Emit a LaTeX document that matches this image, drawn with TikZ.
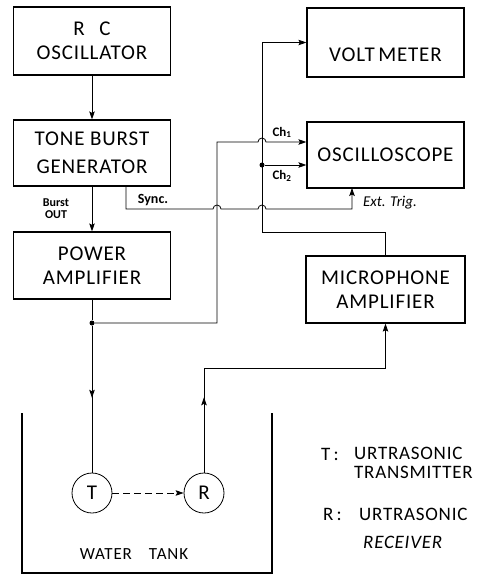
\documentclass[tikz,border=0pt]{standalone}
\usepackage{fontspec}
\setmainfont{Carlito}
\usetikzlibrary{arrows.meta,calc}

\tikzset{
  blk/.style={draw,line width=1.2pt,align=center,inner sep=2pt,
    minimum width=157pt,minimum height=67pt,
    font=\fontsize{21}{24}\selectfont\addfontfeatures{LetterSpace=4}},
  wire/.style={line width=0.8pt},
  xdcr/.style={draw,circle,line width=0.8pt,minimum size=40pt,inner sep=0pt,
    font=\fontsize{21}{24}\selectfont},
  lbl/.style={inner sep=1pt,font=\fontsize{13}{12}\selectfont\bfseries},
  dot/.style={fill,circle,inner sep=0pt,minimum size=5pt},
  legend/.style={inner sep=0pt,anchor=west,align=left,
    font=\fontsize{19}{19.5}\selectfont\addfontfeatures{LetterSpace=4}},
}

\begin{document}
\begin{tikzpicture}[x=1pt,y=-1pt,>={Stealth[length=8pt,width=5.5pt,inset=1.5pt]}]
\useasboundingbox (0,0) rectangle (491,576);

%================= left column =================
\node[blk,minimum height=68pt] (rc) at (92,41) {R\hspace{0.7em}C\\OSCILLATOR};
\node[blk,minimum height=66pt] (tone) at (92,153) {TONE BURST\\[4pt]GENERATOR};
\node[blk] (power) at (92,265.5) {POWER\\AMPLIFIER};

\draw[wire,->] (rc) -- (tone);
\draw[wire,->] (tone) -- (power);
\node[lbl,align=center,font=\fontsize{12}{12}\selectfont\bfseries] (bo) at (56,209) {Burst\\OUT};

%================= right column =================
\node[blk,minimum height=69pt] (volt) at (385.5,42.5) {\raisebox{-19pt}[0pt][0pt]{VOLT\,METER}};
\node[blk,minimum height=66pt] (osc) at (385.5,155) {OSCILLOSCOPE};
\node[blk,minimum width=159pt] (mic) at (385.5,289.5) {MICROPHONE\\AMPLIFIER};

% --- junctions and corners
\node[dot] (j1) at (92,323) {};
\node[dot] (j2) at (262,165) {};
\coordinate (c1) at (217,142);
\coordinate (m1) at (262,232);
\coordinate (sy) at (126,209);
\coordinate (et) at (352,188);
\coordinate (r1) at (204,368);

% power amplifier -> Ch1 (hop over the microphone line)
\draw[wire] (power) -- (j1);
\draw[wire,->] (j1) -| (c1) -- ++(41,0) arc[start angle=180,end angle=360,radius=4]
  -- (osc.west |- c1);
\node[lbl,anchor=south,font=\fontsize{13}{13}\selectfont\bfseries] (ch1) at (282,139) {Ch\textsubscript{1}};

% microphone amplifier -> voltmeter and Ch2
\draw[wire,->] (mic.north) |- (m1) |- (volt.west);
\draw[wire,->] (j2) -- (osc.west |- j2);
\node[lbl,anchor=north,font=\fontsize{13}{13}\selectfont\bfseries] (ch2) at (282,169) {Ch\textsubscript{2}};

% sync -> ext. trig. (two hops)
\draw[wire,->] (tone.south -| sy) -- (sy) -- ++(87,0) arc[start angle=180,end angle=360,radius=4]
  -- ++(37,0) arc[start angle=180,end angle=360,radius=4] -| (et);
\node[lbl,font=\fontsize{14}{14}\selectfont\bfseries] (sync) at (153,200) {Sync.};
\node[lbl,font=\fontsize{15}{15}\selectfont\itshape] (ext) at (390,203) {Ext. Trig.};

%================= water tank =================
\draw[line width=2.6pt] (22,413) -- (22,573) -- (272,573) -- (272,413);
\node[xdcr] (T) at (92,493) {T};
\node[xdcr] (R) at (204,493) {R};

\draw[wire] (j1) -- (T);
\draw[wire,->] (j1) -- ($(j1)!0.5!(T.north)$);
\draw[wire,->] (R.north) -- (r1) -| (mic.south);
\draw[wire,->] (R.north) -- ($(R.north)!0.72!(r1)$);
\draw[wire,dashed,dash pattern=on 7pt off 4pt,->] (T) -- (R);

\node[font=\fontsize{17}{17}\selectfont\addfontfeatures{LetterSpace=5}] (wt) at (134,554) {WATER\hspace{1em}TANK};

% --- legend
\node[legend] (kT) at (321,454) {T\,:};
\node[legend] (vT) at (354,463) {URTRASONIC\\TRANSMITTER};
\node[legend] (kR) at (323,514) {R\,:};
\node[legend,font=\fontsize{19}{28}\selectfont\addfontfeatures{LetterSpace=4}] (vR) at (359,528) {URTRASONIC\\\hspace{4pt}\textit{RECEIVER}};
\end{tikzpicture}
\end{document}
